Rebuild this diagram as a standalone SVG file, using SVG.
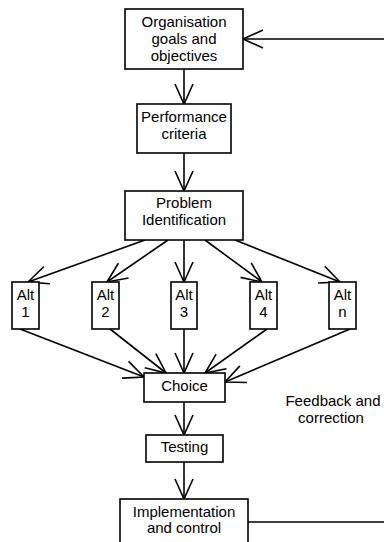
<svg xmlns="http://www.w3.org/2000/svg" width="384" height="542" viewBox="0 0 384 542">
<style>
.box{fill:#fff;stroke:#000;stroke-width:1.6}
.lbl{font-family:"Liberation Sans",Arial,sans-serif;font-size:15px;fill:#000;text-anchor:middle}
.con{fill:none;stroke:#000;stroke-width:1.6}
</style>
<defs>
<marker id="arr" markerUnits="userSpaceOnUse" viewBox="-22 -11 24 22" markerWidth="24" markerHeight="22" refX="0" refY="0" orient="auto">
<path d="M-20,-9 L0,0 L-20,9" fill="none" stroke="#000" stroke-width="1.6"/>
</marker>
</defs>
<rect width="384" height="542" fill="#fff"/>
<g id="connectors">
<line class="con" x1="384" y1="39" x2="243" y2="39" marker-end="url(#arr)"/>
<line class="con" x1="184" y1="69" x2="184" y2="104" marker-end="url(#arr)"/>
<line class="con" x1="184" y1="153" x2="184" y2="191" marker-end="url(#arr)"/>
<line class="con" x1="145" y1="240" x2="28" y2="282" marker-end="url(#arr)"/>
<line class="con" x1="168" y1="240" x2="107" y2="282" marker-end="url(#arr)"/>
<line class="con" x1="184" y1="240" x2="184" y2="282" marker-end="url(#arr)"/>
<line class="con" x1="205" y1="240" x2="262" y2="282" marker-end="url(#arr)"/>
<line class="con" x1="235" y1="240" x2="340" y2="282" marker-end="url(#arr)"/>
<line class="con" x1="20" y1="329" x2="144" y2="377" marker-end="url(#arr)"/>
<line class="con" x1="110" y1="329" x2="166" y2="373" marker-end="url(#arr)"/>
<line class="con" x1="184" y1="329" x2="184" y2="373" marker-end="url(#arr)"/>
<line class="con" x1="267" y1="329" x2="205" y2="373" marker-end="url(#arr)"/>
<line class="con" x1="350" y1="329" x2="225" y2="382" marker-end="url(#arr)"/>
<line class="con" x1="184" y1="402" x2="184" y2="435" marker-end="url(#arr)"/>
<line class="con" x1="184" y1="462" x2="184" y2="499" marker-end="url(#arr)"/>
<line class="con" x1="248" y1="522" x2="384" y2="522"/>
</g>
<g id="goals"><rect class="box" x="125" y="9" width="118" height="60"/>
<text class="lbl" x="184" y="27">Organisation</text><text class="lbl" x="184" y="44">goals and</text><text class="lbl" x="184" y="61">objectives</text></g>
<g id="criteria"><rect class="box" x="137" y="104" width="94" height="49"/>
<text class="lbl" x="184" y="122">Performance</text><text class="lbl" x="184" y="139">criteria</text></g>
<g id="problem"><rect class="box" x="125" y="191" width="118" height="49"/>
<text class="lbl" x="184" y="208">Problem</text><text class="lbl" x="184" y="225">Identification</text></g>
<g id="alt1"><rect class="box" x="12" y="282" width="27" height="47"/>
<text class="lbl" x="25.5" y="300">Alt</text><text class="lbl" x="25.5" y="317">1</text></g>
<g id="alt2"><rect class="box" x="92" y="282" width="27" height="47"/>
<text class="lbl" x="105.5" y="300">Alt</text><text class="lbl" x="105.5" y="317">2</text></g>
<g id="alt3"><rect class="box" x="171" y="282" width="26" height="47"/>
<text class="lbl" x="184" y="300">Alt</text><text class="lbl" x="184" y="317">3</text></g>
<g id="alt4"><rect class="box" x="250" y="282" width="27" height="47"/>
<text class="lbl" x="263.5" y="300">Alt</text><text class="lbl" x="263.5" y="317">4</text></g>
<g id="altn"><rect class="box" x="329" y="282" width="27" height="47"/>
<text class="lbl" x="342.5" y="300">Alt</text><text class="lbl" x="342.5" y="317">n</text></g>
<g id="choice"><rect class="box" x="144" y="373" width="81" height="29"/>
<text class="lbl" x="184.5" y="391">Choice</text></g>
<g id="testing"><rect class="box" x="146" y="435" width="77" height="27"/>
<text class="lbl" x="184.5" y="452">Testing</text></g>
<g id="implementation"><rect class="box" x="120" y="499" width="128" height="50"/>
<text class="lbl" x="184" y="517">Implementation</text><text class="lbl" x="184" y="533">and control</text></g>
<g id="feedback-label">
<text class="lbl" x="333" y="406">Feedback and</text><text class="lbl" x="331" y="423">correction</text></g>
</svg>
